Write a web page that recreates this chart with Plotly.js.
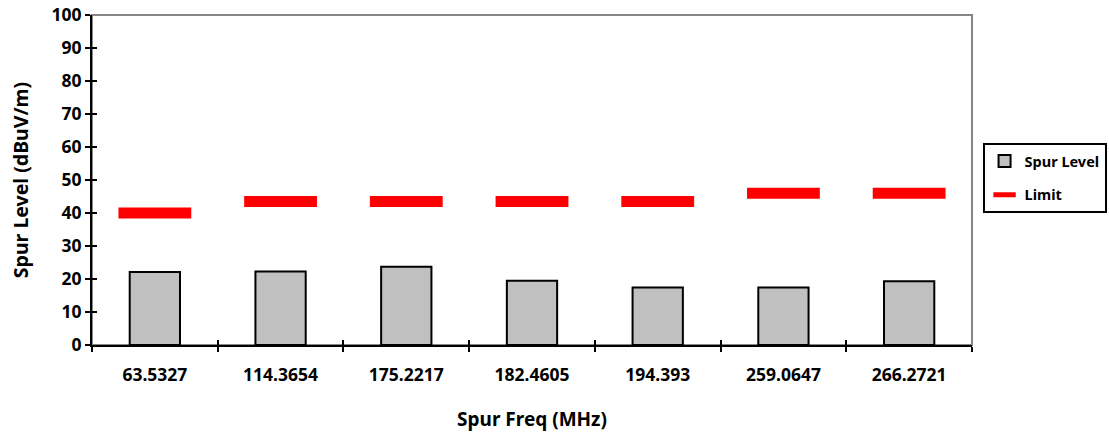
<!DOCTYPE html>
<html><head><meta charset="utf-8">
<script src="https://cdn.plot.ly/plotly-3.0.1.min.js"></script>
<style>html,body{margin:0;padding:0;background:#fff}#c{width:1109px;height:434px}</style>
</head><body><div id="c"></div>
<script>
const categories = ["63.5327","114.3654","175.2217","182.4605","194.393","259.0647","266.2721"];
const spurLevel = [22.1, 22.3, 23.7, 19.5, 17.4, 17.4, 19.3];
const limit = [40, 43.5, 43.5, 43.5, 43.5, 46, 46];

const FONT = "'Noto Sans', 'DejaVu Sans', sans-serif";
const traces = [
  {type:"bar", name:"Spur Level", legendgroup:"a", x:categories, y:spurLevel,
   marker:{color:"#C0C0C0", line:{color:"#000", width:2}}, hoverinfo:"x+y"},
  {type:"scatter", mode:"markers", name:"Limit", legendgroup:"b", x:categories, y:limit, xaxis:"x2", yaxis:"y2",
   marker:{symbol:"line-ew", size:52, color:"#FF0000", line:{color:"#FF0000", width:11}}}
];
const layout = {
  width:1109, height:434,
  margin:{l:92, r:137, t:15, b:88.5, autoexpand:false},
  paper_bgcolor:"#fff", plot_bgcolor:"#fff",
  font:{family:FONT, size:17, color:"#000", weight:"bold"},
  bargap:0.6,
  showlegend:true,
  legend:{x:1.012, y:0.612, xanchor:"left", yanchor:"top", bordercolor:"#000", borderwidth:2,
          font:{family:FONT, size:14.5, color:"#000", weight:"bold"}, tracegroupgap:12, itemwidth:30},
  xaxis:{type:"category", range:[-0.5,6.5], showline:true, linecolor:"#000", linewidth:2,
         ticks:"outside", ticklen:5, tickwidth:2, tickcolor:"#000", tickson:"boundaries",
         showgrid:false, zeroline:false, ticklabelstandoff:13,
         tickfont:{family:FONT, size:17.5, weight:"bold"},
         title:{text:"Spur Freq (MHz)", standoff:28, font:{family:FONT, size:19, weight:"bold"}}},
  xaxis2:{type:"category", overlaying:"x", range:[-0.5,6.5], showline:false,
          ticks:"inside", ticklen:5, tickwidth:2, tickcolor:"#000", tickson:"boundaries",
          showticklabels:false, showgrid:false, zeroline:false},
  yaxis:{range:[0,100], dtick:10, showline:true, linecolor:"#000", linewidth:2,
         ticks:"outside", ticklen:5, tickwidth:2, tickcolor:"#000", showgrid:false, zeroline:false,
         tickfont:{family:FONT, size:17.5, weight:"bold"},
         title:{text:"Spur Level (dBuV/m)", standoff:18, font:{family:FONT, size:19.5, weight:"bold"}}},
  yaxis2:{range:[0,100], dtick:10, overlaying:"y", ticks:"inside", ticklen:5, tickwidth:2, tickcolor:"#000",
          showticklabels:false, showgrid:false, zeroline:false, showline:false},
  shapes:[{type:"rect", xref:"paper", yref:"paper", x0:0, x1:1, y0:0, y1:1, layer:"below",
           line:{color:"#868686", width:2}}]
};
Plotly.newPlot("c", traces, layout, {displayModeBar:false, staticPlot:true});
</script></body></html>
